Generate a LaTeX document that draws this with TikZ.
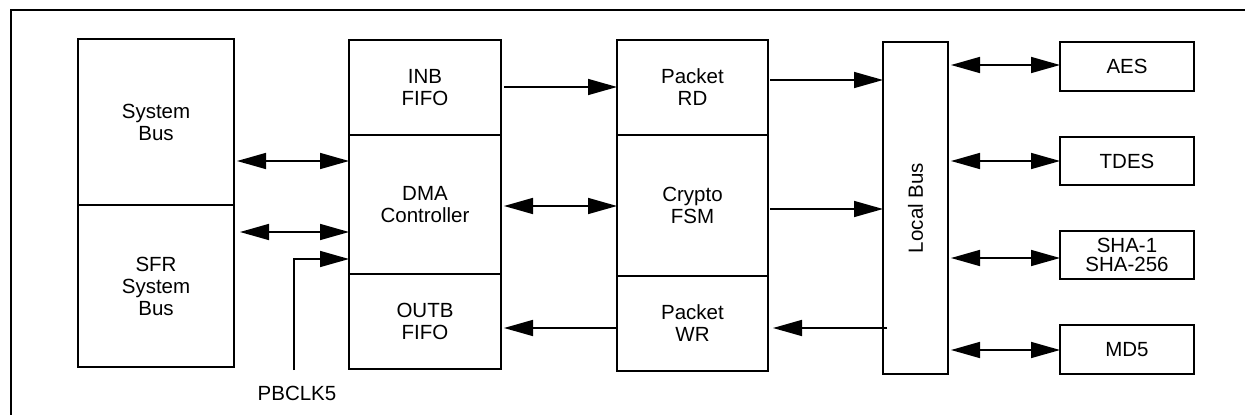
\documentclass[tikz,border=0pt]{standalone}
\usepackage{fontspec}
\setmainfont{Liberation Sans}
\usepackage{graphicx}
\usetikzlibrary{arrows.meta, positioning}
\tikzset{
  blk/.style ={rectangle, draw, line width=2pt, align=center, inner sep=0pt, outer sep=0pt, font=\fontsize{20.5}{22}\selectfont},
  fl/.style  ={line width=1.6pt, -{Triangle[length=29pt, width=16pt]}},
  fl2/.style ={line width=1.6pt, {Triangle[length=29pt, width=16pt]}-{Triangle[length=29pt, width=16pt]}},
  lbl/.style ={font=\fontsize{20.5}{22}\selectfont, inner sep=0pt},
}
\begin{document}
\begin{tikzpicture}[x=1pt, y=-1pt, node distance=46pt]
  \useasboundingbox (0,0) rectangle (1245,415);
  \draw[line width=2.4pt] (11,415) -- (11,10) -- (1245,10);
  % system side
  \node[blk, minimum width=156pt, minimum height=166pt, anchor=north west] (sysbus) at (78,39) {System\\Bus};
  \node[blk, minimum width=156pt, minimum height=162pt, anchor=north west] (sfr) at (sysbus.south west) {SFR\\System\\Bus};
  % DMA column
  \node[blk, minimum width=152pt, minimum height=95pt, anchor=north west] (inb) at (349,40) {INB\\FIFO};
  \node[blk, minimum width=152pt, minimum height=139pt, anchor=north west] (dma) at (inb.south west) {DMA\\Controller};
  \node[blk, minimum width=152pt, minimum height=95pt, anchor=north west] (outb) at (dma.south west) {OUTB\\FIFO};
  % crypto column
  \node[blk, minimum width=151pt, minimum height=95pt, anchor=north west] (rd) at (617,40) {Packet\\RD};
  \node[blk, minimum width=151pt, minimum height=141pt, anchor=north west] (fsm) at (rd.south west) {Crypto\\FSM};
  \node[blk, minimum width=151pt, minimum height=95pt, anchor=north west] (wr) at (fsm.south west) {Packet\\WR};
  \node[blk, minimum width=65pt, minimum height=332pt, anchor=north west] (lbus) at (883,42) {\rotatebox{90}{Local Bus}};
  % engines
  \node[blk, minimum width=134pt, minimum height=49pt, anchor=north west] (aes) at (1060,42) {AES};
  \node[blk, minimum width=134pt, minimum height=48pt, below=of aes] (tdes) {TDES};
  \node[blk, minimum width=134pt, minimum height=48pt, below=of tdes, font=\fontsize{20.5}{19}\selectfont] (sha) {SHA-1\\SHA-256};
  \node[blk, minimum width=134pt, minimum height=49pt, below=of sha] (md5) {MD5};
  \node[lbl] (clk) at (297,393) {PBCLK5};
  \coordinate (clkin) at (294,370);
  \draw[fl2, shorten <=3pt] (sysbus.east |- 0,161) -- (dma.west |- 0,161);
  \draw[fl2, shorten <=6pt] (sfr.east |- 0,232) -- (dma.west |- 0,232);
  \draw[fl] (clkin) |- (dma.west |- 0,259);
  \draw[fl, shorten <=3pt] (inb.east |- 0,87) -- (rd.west |- 0,87);
  \draw[fl2, shorten <=3pt] (dma.east |- 0,206) -- (fsm.west |- 0,206);
  \draw[fl, shorten >=3pt] (wr.west |- 0,328) -- (outb.east |- 0,328);
  \draw[fl, shorten <=2pt] (rd.east |- 0,80) -- (lbus.west |- 0,80);
  \draw[fl, shorten <=2pt] (fsm.east |- 0,209) -- (lbus.west |- 0,209);
  \draw[fl, shorten <=-4pt, shorten >=5pt] (lbus.west |- 0,328) -- (wr.east |- 0,328);
  \draw[fl2, shorten <=3pt] (lbus.east |- 0,65) -- (aes.west |- 0,65);
  \draw[fl2, shorten <=3pt] (lbus.east |- 0,161) -- (tdes.west |- 0,161);
  \draw[fl2, shorten <=3pt] (lbus.east |- 0,258) -- (sha.west |- 0,258);
  \draw[fl2, shorten <=3pt] (lbus.east |- 0,350) -- (md5.west |- 0,350);
\end{tikzpicture}
\end{document}
